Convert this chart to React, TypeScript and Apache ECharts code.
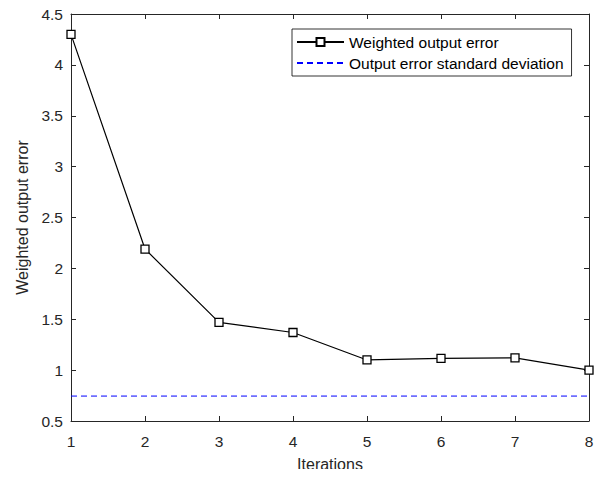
import React, { useEffect, useRef } from "react";
import * as echarts from "echarts";

const iterations = ["1", "2", "3", "4", "5", "6", "7", "8"];
const weightedError = [4.3, 2.19, 1.47, 1.37, 1.1, 1.115, 1.12, 1.0];
const stdDev = [0.745, 0.745, 0.745, 0.745, 0.745, 0.745, 0.745, 0.745];
const seriesNames = ["Weighted output error", "Output error standard deviation"];

const FONT = "Liberation Sans, Arial, Helvetica, sans-serif";
const AXIS = "#262626";

export default function App() {
  const ref = useRef<HTMLDivElement>(null);
  useEffect(() => {
    if (!ref.current) return;
    const chart = echarts.init(ref.current, undefined, { renderer: "svg" });
    const xs = iterations.map((v) => Number(v));
    chart.setOption({
      animation: false,
      backgroundColor: "#fff",
      textStyle: { fontFamily: FONT },
      grid: { left: 71, right: 17, top: 14, bottom: 55, containLabel: false },
      legend: {
        orient: "vertical",
        left: 292,
        top: 29,
        padding: [4, 8, 4, 4],
        itemGap: 3,
        itemWidth: 47,
        itemHeight: 10,
        borderColor: "#000",
        borderWidth: 0.8,
        backgroundColor: "#fff",
        textStyle: { fontFamily: FONT, fontSize: 15.5, color: "#000", lineHeight: 18 },
        data: [
          { name: seriesNames[0] },
          { name: seriesNames[1], itemStyle: { opacity: 0 } },
        ],
      },
      xAxis: [
        {
          type: "value",
          min: 1,
          max: 8,
          interval: 1,
          name: "Iterations",
          nameLocation: "middle",
          nameGap: 35,
          nameTextStyle: { fontSize: 16, color: AXIS, fontFamily: FONT },
          axisLine: { show: true, lineStyle: { color: AXIS, width: 1 } },
          axisTick: { show: true, inside: true, length: 5, lineStyle: { color: AXIS } },
          axisLabel: { fontSize: 15.5, color: AXIS, margin: 12, fontFamily: FONT },
          splitLine: { show: false },
        },
        {
          type: "value",
          position: "top",
          min: 1,
          max: 8,
          interval: 1,
          axisLine: { show: true, lineStyle: { color: AXIS, width: 1 } },
          axisTick: { show: true, inside: true, length: 5, lineStyle: { color: AXIS } },
          axisLabel: { show: false },
          splitLine: { show: false },
        },
      ],
      yAxis: [
        {
          type: "value",
          min: 0.5,
          max: 4.5,
          interval: 0.5,
          name: "Weighted output error",
          nameLocation: "middle",
          nameGap: 39,
          nameTextStyle: { fontSize: 16, color: AXIS, fontFamily: FONT },
          axisLine: { show: true, lineStyle: { color: AXIS, width: 1 } },
          axisTick: { show: true, inside: true, length: 5, lineStyle: { color: AXIS } },
          axisLabel: { fontSize: 15.5, color: AXIS, margin: 8, fontFamily: FONT },
          splitLine: { show: false },
        },
        {
          type: "value",
          position: "right",
          min: 0.5,
          max: 4.5,
          interval: 0.5,
          axisLine: { show: true, lineStyle: { color: AXIS, width: 1 } },
          axisTick: { show: true, inside: true, length: 5, lineStyle: { color: AXIS } },
          axisLabel: { show: false },
          splitLine: { show: false },
        },
      ],
      series: [
        {
          name: seriesNames[0],
          type: "line",
          data: xs.map((x, i) => [x, weightedError[i]]),
          symbol: "rect",
          symbolSize: 8,
          showAllSymbol: true,
          lineStyle: { color: "#000", width: 1.2 },
          itemStyle: { color: "#fff", borderColor: "#000", borderWidth: 1.3 },
          z: 3,
        },
        {
          name: seriesNames[1],
          type: "line",
          data: xs.map((x, i) => [x, stdDev[i]]),
          symbol: "none",
          lineStyle: { color: "#0000ff", width: 1, type: [6, 4] },
          itemStyle: { color: "#0000ff" },
          z: 2,
        },
      ],
    });
    return () => chart.dispose();
  }, []);
  return <div ref={ref} style={{ width: 606, height: 477, margin: -8 }} />;
}
